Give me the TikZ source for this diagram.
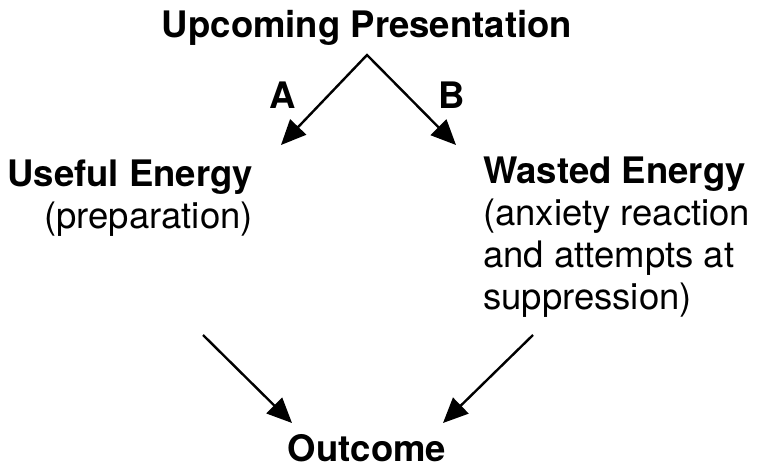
\documentclass[tikz,border=0pt]{standalone}
\usepackage{fontspec}
\setmainfont{TeX Gyre Heros}
\usetikzlibrary{arrows.meta}
\begin{document}
\begin{tikzpicture}[x=1pt,y=-1pt,
  title/.style={font=\fontsize{36.5}{42}\selectfont\bfseries, inner sep=0pt},
  body/.style={font=\fontsize{36.5}{42}\selectfont, inner sep=0pt},
  flow/.style={line width=2.4pt, -{Triangle[length=25pt,width=22pt]}}]
  \useasboundingbox (0,0) rectangle (760,470);
  % headings and text blocks
  \node[title] (top) at (367,28) {Upcoming Presentation};
  \node[title, anchor=base] (a) at (283,109) {A};
  \node[title, anchor=base] (b) at (452,109) {B};
  \node[body, align=right, anchor=north east] (useful) at (253,160)
    {\textbf{Useful Energy}\\(preparation)};
  \node[body, align=left, anchor=north west] (wasted) at (483,157)
    {\textbf{Wasted Energy}\\(anxiety reaction\\and attempts at\\suppression)};
  \node[title] (out) at (367,448) {Outcome};
  % arrow ends
  \coordinate (apex) at (367,55);
  \coordinate (la) at (281,145);
  \coordinate (ra) at (456,145);
  \coordinate (ls) at (203,335);
  \coordinate (le) at (292,423);
  \coordinate (rs) at (533,335);
  \coordinate (re) at (443,423);
  % connectors
  \draw[flow, {Triangle[length=25pt,width=22pt]}-{Triangle[length=25pt,width=22pt]}, line join=miter] (la) -- (apex) -- (ra);
  \draw[flow] (ls) -- (le);
  \draw[flow] (rs) -- (re);
\end{tikzpicture}
\end{document}
